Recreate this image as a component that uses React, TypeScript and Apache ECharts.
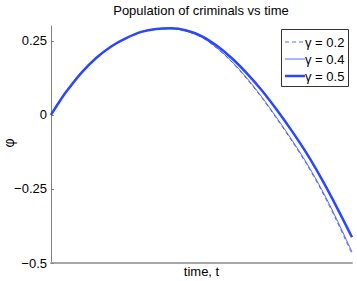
import React, { useEffect, useRef } from "react";
import * as echarts from "echarts";

const times = [0, 0.025, 0.05, 0.1, 0.15, 0.2, 0.25, 0.3, 0.35, 0.4, 0.45, 0.5, 0.55, 0.6, 0.65, 0.7, 0.75, 0.8, 0.85, 0.9, 0.95, 1.0];
const gamma02 = [0, 0.04, 0.077, 0.141, 0.192, 0.231, 0.259, 0.28, 0.29, 0.291, 0.283, 0.262, 0.226, 0.179, 0.122, 0.058, -0.013, -0.088, -0.168, -0.258, -0.36, -0.47];
const gamma04 = [0, 0.04, 0.077, 0.141, 0.192, 0.231, 0.259, 0.28, 0.29, 0.291, 0.283, 0.263, 0.227, 0.181, 0.125, 0.061, -0.01, -0.084, -0.164, -0.253, -0.354, -0.463];
const gamma05 = [0, 0.04, 0.077, 0.141, 0.192, 0.231, 0.259, 0.28, 0.29, 0.292, 0.285, 0.266, 0.234, 0.192, 0.141, 0.083, 0.017, -0.054, -0.131, -0.218, -0.313, -0.413];
const seriesNames = ["γ = 0.2", "γ = 0.4", "γ = 0.5"];
const yTicks = [-0.5, -0.25, 0, 0.25];
const yName = "φ";

const FONT = "Liberation Sans, Arial, Helvetica, sans-serif";
const BLUE = "#2a46ff";

const lineStyles = [
  { color: BLUE, width: 1, type: [4, 3] as number[] | string, opacity: 0.8 },
  { color: BLUE, width: 1, type: "solid" as number[] | string, opacity: 0.8 },
  { color: BLUE, width: 2.5, type: "solid" as number[] | string, opacity: 1 },
];

function pairs(vals: number[]) {
  return times.map((t, i) => [t, vals[i]]);
}

function fmt(v: number) {
  if (v === 0) return "0";
  const s = String(Math.abs(v));
  return (v < 0 ? "\u2212" : "") + s;
}

export default function App() {
  const ref = useRef<HTMLDivElement>(null);
  useEffect(() => {
    if (!ref.current) return;
    const chart = echarts.init(ref.current, null, { renderer: "svg" });
    const legendX = 281.5;
    const legendY = 29.5;
    const rowY = [42, 59, 76];
    const graphics: any[] = [
      {
        type: "rect",
        shape: { x: legendX, y: legendY, width: 67, height: 57 },
        style: { fill: "#fff", stroke: "#333", lineWidth: 1 },
        z: 10,
      },
      {
        type: "text",
        x: 9,
        y: 143,
        rotation: Math.PI / 2,
        style: {
          text: yName,
          font: `14px ${FONT}`,
          fill: "#000",
          align: "center",
          verticalAlign: "middle",
        },
        z: 11,
      },
    ];
    seriesNames.forEach((name, i) => {
      const ls = lineStyles[i];
      graphics.push({
        type: "line",
        shape: { x1: 285, y1: rowY[i], x2: 305, y2: rowY[i] },
        style: {
          stroke: ls.color,
          lineWidth: ls.width,
          lineDash: Array.isArray(ls.type) ? ls.type : null,
          opacity: ls.opacity,
        },
        z: 11,
      });
      graphics.push({
        type: "text",
        x: 305,
        y: rowY[i],
        style: {
          text: name,
          font: `13px ${FONT}`,
          fill: "#000",
          verticalAlign: "middle",
          align: "left",
        },
        z: 11,
      });
    });
    chart.setOption({
      animation: false,
      backgroundColor: "#ffffff",
      title: {
        text: "Population of criminals vs time",
        left: 201,
        textAlign: "center",
        top: 4,
        padding: 0,
        textStyle: { fontFamily: FONT, fontSize: 13, fontWeight: "normal", color: "#000" },
      },
      grid: { left: 51, right: 5, top: 26, bottom: 18, containLabel: false, outerBoundsMode: "none" },
      graphic: graphics,
      xAxis: {
        type: "value",
        min: 0,
        max: 1,
        name: "time, t",
        nameLocation: "middle",
        nameGap: 2,
        nameTextStyle: { fontFamily: FONT, fontSize: 13, color: "#000" },
        axisLine: { show: true, onZero: false, lineStyle: { color: "#a8a8a8", width: 2 } },
        axisTick: { show: false },
        axisLabel: { show: false },
        splitLine: { show: false },
      },
      yAxis: {
        type: "value",
        min: -0.5,
        max: 0.3,
        interval: 0.25,
        axisLine: { show: true, lineStyle: { color: "#808080", width: 1 } },
        axisTick: { show: true, inside: true, length: 3, customValues: yTicks, lineStyle: { color: "#808080" } },
        axisLabel: {
          customValues: yTicks,
          formatter: (v: number) => fmt(v),
          fontFamily: FONT,
          fontSize: 13,
          color: "#000",
          margin: 4,
        },
        splitLine: { show: false },
      },
      series: [gamma02, gamma04, gamma05].map((vals, i) => ({
        name: seriesNames[i],
        type: "line",
        data: pairs(vals),
        symbol: "none",
        smooth: 0.3,
        lineStyle: lineStyles[i],
        itemStyle: { color: BLUE },
      })),
    });
    return () => chart.dispose();
  }, []);
  return <div ref={ref} style={{ width: 357, height: 281, position: "absolute", left: 0, top: 0 }} />;
}
